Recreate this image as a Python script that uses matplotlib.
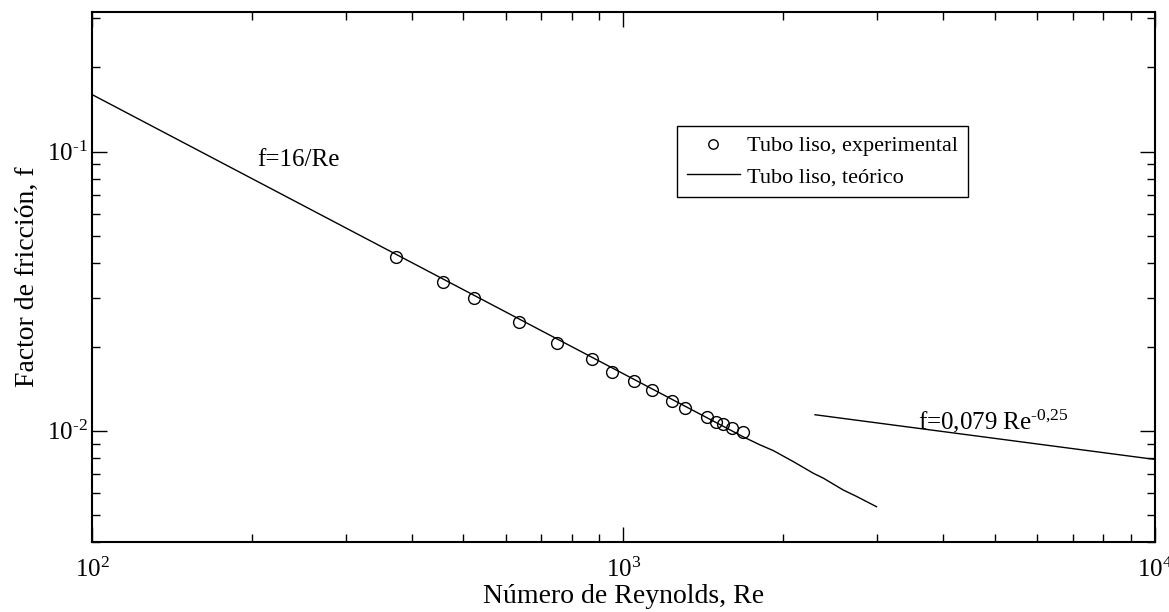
import matplotlib
matplotlib.use("Agg")
import matplotlib.pyplot as plt
from matplotlib.ticker import LogLocator, NullFormatter, FuncFormatter
import numpy as np

# experimental points
re_exp = [373, 458, 523, 637, 749, 871, 950, 1047, 1130, 1232, 1307, 1434, 1493, 1541, 1602, 1680]
f_exp = [0.0418, 0.0342, 0.0300, 0.0246, 0.0207, 0.0181, 0.0163, 0.0151, 0.0140,
         0.01278, 0.01206, 0.01122, 0.01080, 0.01060, 0.01025, 0.00989]

# laminar theoretical line (16/Re with the small wiggles at the end)
re_lam = [100, 1000, 1680, 1806, 1913, 2087, 2276, 2377, 2591, 2747, 2993]
f_lam = [0.16, 0.016, 0.00952, 0.00891, 0.00850, 0.00776, 0.00705, 0.00677, 0.00614, 0.00582, 0.00535]

# turbulent line f = 0.079 Re^-0.25
re_turb = [2293, 10000]
f_turb = [0.01142, 0.0079]

plt.rcParams["font.family"] = ["Liberation Serif", "DejaVu Serif"]
plt.rcParams["mathtext.fontset"] = "custom"
plt.rcParams["mathtext.rm"] = "Liberation Serif"
plt.rcParams["mathtext.it"] = "Liberation Serif"

HY = "\u2010"  # plain hyphen, like the original labels


def pow10(v, pos):
    e = int(round(np.log10(v)))
    s = str(e).replace("-", HY)
    return r"$\mathrm{10}^{\mathrm{%s}}$" % s


fig = plt.figure(figsize=(11.69, 6.12), dpi=100)
ax = fig.add_axes([0.0787, 0.1144, 0.9093, 0.8660])

ax.plot(re_exp, f_exp, "o", mfc="none", mec="black", ms=8.5, mew=1.0,
        label="Tubo liso, experimental")
ax.plot(re_lam, f_lam, "-", color="black", lw=1.0, label="Tubo liso, teórico")
ax.plot(re_turb, f_turb, "-", color="black", lw=1.0)

ax.set_xscale("log")
ax.set_yscale("log")
ax.set_xlim(100, 10000)
ax.set_ylim(0.004, 0.316)

ax.xaxis.set_major_locator(LogLocator(base=10))
ax.yaxis.set_major_locator(LogLocator(base=10))
ax.xaxis.set_minor_locator(LogLocator(base=10, subs=range(2, 10)))
ax.yaxis.set_minor_locator(LogLocator(base=10, subs=range(2, 10)))
ax.xaxis.set_minor_formatter(NullFormatter())
ax.yaxis.set_minor_formatter(NullFormatter())
ax.xaxis.set_major_formatter(FuncFormatter(pow10))
ax.yaxis.set_major_formatter(FuncFormatter(pow10))

ax.tick_params(which="both", direction="in", top=True, right=True, labelsize=18)
ax.tick_params(which="major", length=11, width=1)
ax.tick_params(which="minor", length=6, width=1)
ax.tick_params(axis="x", which="major", pad=11)
ax.tick_params(axis="y", which="major", pad=3)
for s in ax.spines.values():
    s.set_linewidth(1.5)

ax.set_xlabel("Número de Reynolds, Re", fontsize=20, labelpad=2)
ax.set_ylabel("Factor de fricción, f", fontsize=20, labelpad=5)

ax.text(0.155, 0.72, "f=16/Re", transform=ax.transAxes, fontsize=18, va="center")
ax.text(0.777, 0.228, "f=0,079 Re$^{\\mathrm{%s0{,}25}}$" % HY, transform=ax.transAxes,
        fontsize=18, va="center")

leg = ax.legend(loc="upper left", bbox_to_anchor=(0.550, 0.785), borderaxespad=0,
                fontsize=16, frameon=True, fancybox=False, edgecolor="black",
                framealpha=1, handlelength=2.4, handletextpad=0.3, borderpad=0.45,
                labelspacing=0.45, markerscale=0.8)
leg.get_frame().set_linewidth(1.0)

fig.savefig("out.png", dpi=100)
